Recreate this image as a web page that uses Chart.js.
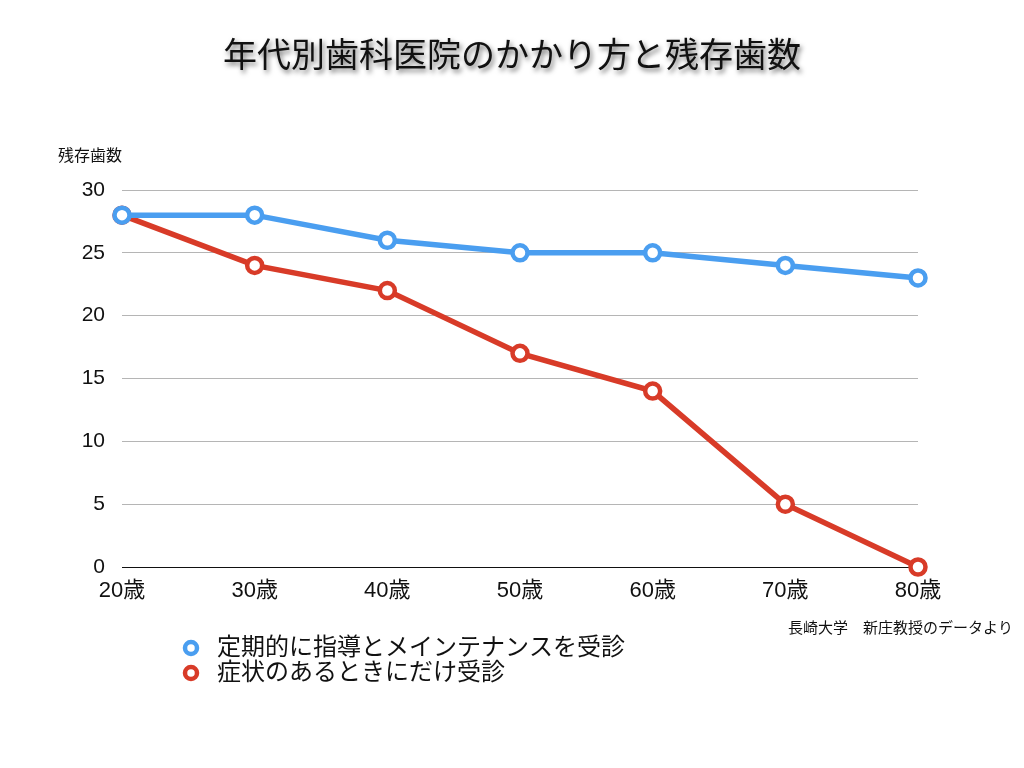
<!DOCTYPE html>
<html><head><meta charset="utf-8">
<script src="https://cdn.jsdelivr.net/npm/chart.js@4"></script>
<style>html,body{margin:0;padding:0;background:#fff}#wrap{width:1024px;height:768px;position:relative}</style>
</head><body><div id="wrap"><canvas id="c" width="1024" height="768"></canvas></div>
<script>
const titleText = '年代別歯科医院のかかり方と残存歯数';
const yAxisTitle = '残存歯数';
const sourceNote = '長崎大学　新庄教授のデータより';
const categories = ['20歳','30歳','40歳','50歳','60歳','70歳','80歳'];
const regularValues = [28,28,26,25,25,24,23];
const symptomValues = [28,24,22,17,14,5,0];
const seriesLabels = ['定期的に指導とメインテナンスを受診','症状のあるときにだけ受診'];
const seriesColors = ['#4a9ef0','#d83b28'];
const FONT = "'Liberation Sans','Noto Sans CJK JP',sans-serif";

const extras = {
  id:'extras',
  afterDraw(chart){
    const ctx = chart.ctx;
    ctx.save();
    ctx.font = '34px ' + FONT;
    ctx.textAlign = 'center'; ctx.textBaseline = 'middle';
    ctx.shadowColor = 'rgba(0,0,0,0.55)'; ctx.shadowBlur = 5; ctx.shadowOffsetX = 2; ctx.shadowOffsetY = 3;
    ctx.fillStyle = '#111';
    ctx.fillText(titleText, 512, 58);
    ctx.shadowColor = 'transparent'; ctx.shadowBlur = 0; ctx.shadowOffsetX = 0; ctx.shadowOffsetY = 0;
    ctx.font = '16px ' + FONT; ctx.textAlign = 'left'; ctx.fillStyle = '#111';
    ctx.fillText(yAxisTitle, 58, 157);
    ctx.font = '15px ' + FONT;
    ctx.fillText(sourceNote, 788, 629);
    chart.data.datasets.forEach((ds,i)=>{
      const y = 648 + i*25;
      ctx.beginPath(); ctx.arc(191, y, 6, 0, Math.PI*2);
      ctx.fillStyle = '#fff'; ctx.fill();
      ctx.lineWidth = 4.5; ctx.strokeStyle = ds.borderColor; ctx.stroke();
      ctx.font = '24px ' + FONT; ctx.fillStyle = '#111'; ctx.textAlign='left';
      ctx.fillText(ds.label, 217, y);
    });
    ctx.restore();
  }
};

new Chart(document.getElementById('c'), {
  type:'line',
  data:{
    labels: categories,
    datasets:[
      {label:seriesLabels[0], data:regularValues, borderColor:seriesColors[0], backgroundColor:'#fff', borderWidth:5.5, pointRadius:7.5, pointBorderWidth:4.5, pointBackgroundColor:'#fff', pointBorderColor:seriesColors[0], clip:false, tension:0},
      {label:seriesLabels[1], data:symptomValues, borderColor:seriesColors[1], backgroundColor:'#fff', borderWidth:5.5, pointRadius:7.5, pointBorderWidth:4.5, pointBackgroundColor:'#fff', pointBorderColor:seriesColors[1], clip:false, tension:0}
    ]
  },
  options:{
    responsive:false, animation:false, devicePixelRatio:1,
    layout:{padding:{left:0,right:106,top:190,bottom:161}},
    plugins:{legend:{display:false}, tooltip:{enabled:false}, title:{display:false}},
    scales:{
      x:{
        offset:false,
        afterFit(scale){ scale.height = 40; },
        grid:{display:false, drawTicks:false},
        border:{display:false},
        ticks:{font:{family:FONT,size:22}, color:'#111', padding:11, maxRotation:0, autoSkip:false}
      },
      y:{
        min:0, max:30,
        afterFit(scale){ scale.width = 122; },
        grid:{drawTicks:false, color:(c)=> c.tick && c.tick.value===0 ? '#111' : '#b5b5b5', lineWidth:1},
        border:{display:false},
        ticks:{stepSize:5, font:{family:FONT,size:21}, color:'#111', padding:17}
      }
    }
  },
  plugins:[extras]
});
</script>
</body></html>
